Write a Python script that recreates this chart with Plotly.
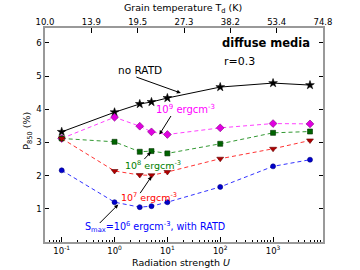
import numpy as np
import plotly.graph_objects as go

U = [0.1, 1, 3, 5, 10, 100, 1000, 5000]
p_no_ratd = [3.32, 3.91, 4.16, 4.22, 4.34, 4.67, 4.79, 4.73]
p_s9 = [3.12, 3.76, 3.49, 3.32, 3.24, 3.44, 3.57, 3.56]
p_s8 = [3.12, 3.02, 2.72, 2.74, 2.67, 2.96, 3.29, 3.33]
p_s7 = [3.12, 2.14, 2.02, 2.01, 2.11, 2.51, 2.81, 3.06]
p_s6 = [2.16, 1.20, 1.05, 1.08, 1.20, 1.66, 2.28, 2.48]

temp_labels = ["10.0", "13.9", "19.5", "27.3", "38.2", "53.4", "74.8"]
x_major = [0.1, 1, 10, 100, 1000]
x_major_text = ["10<sup>-1</sup>", "10<sup>0</sup>", "10<sup>1</sup>", "10<sup>2</sup>", "10<sup>3</sup>"]

FONT = "DejaVu Sans"
fig = go.Figure()

def add(y, color, lcolor, symbol, size, dash, edge):
    fig.add_trace(go.Scatter(
        x=U, y=y, mode="lines+markers",
        line=dict(color=lcolor, width=1, dash=dash),
        marker=dict(symbol=symbol, size=size, color=color, line=dict(color=edge, width=0.6)),
        showlegend=False, hoverinfo="skip"))

add(p_no_ratd, "black", "black", "star", 6.5, "solid", "black")
add(p_s9, "#e000e0", "#ff40ff", "diamond", 6, "4px,3px", "#800080")
add(p_s8, "#006400", "#339933", "square", 5, "4px,3px", "#003300")
add(p_s7, "#b00000", "#ff3333", "triangle-down", 6, "4px,3px", "#600000")
add(p_s6, "#0000cc", "#3333ff", "circle", 5, "4px,3px", "#000080")

# dummy trace for the top temperature axis
fig.add_trace(go.Scatter(x=[0, 6], y=[0, 0], xaxis="x2", mode="lines",
                         line=dict(width=0), opacity=0, showlegend=False, hoverinfo="skip"))

minor_vals = []
for d in [0.01, 0.1, 1, 10, 100, 1000]:
    for k in range(2, 10):
        minor_vals.append(k * d)

fig.update_layout(
    width=360, height=270,
    margin=dict(l=45, r=37, t=28, b=28, autoexpand=False),
    paper_bgcolor="white", plot_bgcolor="white",
    font=dict(family=FONT, size=8.5, color="black"),
    xaxis=dict(
        type="log", range=[-1.316, 3.945], automargin=False,
        tickmode="array", tickvals=x_major, ticktext=x_major_text,
        ticks="inside", ticklen=5, tickcolor="black", tickwidth=1,
        minor=dict(tickmode="array", tickvals=minor_vals, ticks="inside", ticklen=2.5, tickcolor="black"),
        showline=True, linecolor="#999999", linewidth=1.5, mirror=True,
        showgrid=False, zeroline=False,
        tickfont=dict(size=8.5),
    ),
    xaxis2=dict(
        overlaying="x", side="top", range=[0, 6], automargin=False,
        tickmode="array", tickvals=list(range(7)), ticktext=temp_labels,
        ticks="inside", ticklen=5, tickcolor="black",
        showline=False, showgrid=False, zeroline=False,
        tickfont=dict(size=8.5),
    ),
    yaxis=dict(
        range=[0, 6.45], tickmode="array", tickvals=[1, 2, 3, 4, 5, 6], automargin=False,
        ticks="inside", ticklen=4, tickcolor="black",
        showline=True, linecolor="#999999", linewidth=1.5, mirror="ticks",
        showgrid=False, zeroline=False,
        tickfont=dict(size=8.5),
    ),
)

# axis titles
fig.add_annotation(x=0.496, y=1.092, xref="paper", yref="paper", showarrow=False,
                   text="Grain temperature T<sub>d</sub> (K)", font=dict(size=9.5),
                   xanchor="center", yanchor="middle")
fig.add_annotation(x=0.491, y=-0.098, xref="paper", yref="paper", showarrow=False,
                   text="Radiation strength <i>U</i>", font=dict(size=9.5),
                   xanchor="center", yanchor="middle")
fig.add_annotation(x=-0.061, y=0.52, xref="paper", yref="paper", showarrow=False,
                   text="P<sub>850</sub> (%)", font=dict(size=9.5), textangle=-90,
                   xanchor="center", yanchor="middle")

def arrow(lx, py, ax, ay):
    fig.add_annotation(x=lx, y=py, xref="x", yref="y", text="", showarrow=True,
                       ax=ax, ay=ay, arrowhead=2, arrowsize=0.8, arrowwidth=1,
                       arrowcolor="black")

def label(lx, py, text, color, size=10, bold=False):
    if bold:
        text = "<b>" + text + "</b>"
    fig.add_annotation(x=lx, y=py, xref="x", yref="y", text=text, showarrow=False,
                       font=dict(family=FONT, size=size, color=color),
                       xanchor="center", yanchor="middle")

arrow(1.255, 4.49, -46, -16.5)
arrow(0.849, 3.24, 12.5, -20)
arrow(0.688, 2.71, -8, 8.5)
arrow(0.701, 1.98, -12.4, 18.3)
arrow(0.07, 1.13, -20, 20)

label(0.480, 5.17, "no RATD", "black", 10.5)
label(1.35, 4.02, "10<sup>9</sup> ergcm<sup>-3</sup>", "#ff00ff", 10)
label(0.726, 2.33, "10<sup>8</sup> ergcm<sup>-3</sup>", "#008000", 9.5)
label(0.66, 1.37, "10<sup>7</sup> ergcm<sup>-3</sup>", "#ff0000", 9.5)
label(0.764, 0.44, "S<sub>max</sub>=10<sup>6</sup> ergcm<sup>-3</sup>, with RATD", "#0000ff", 9.6)
label(2.875, 6.0, "diffuse media", "black", 11.5, bold=True)
label(2.357, 5.45, "r=0.3", "black", 11)

fig.write_html("out.html", config={"displayModeBar": False},
               post_script="document.body.style.margin='0';")
